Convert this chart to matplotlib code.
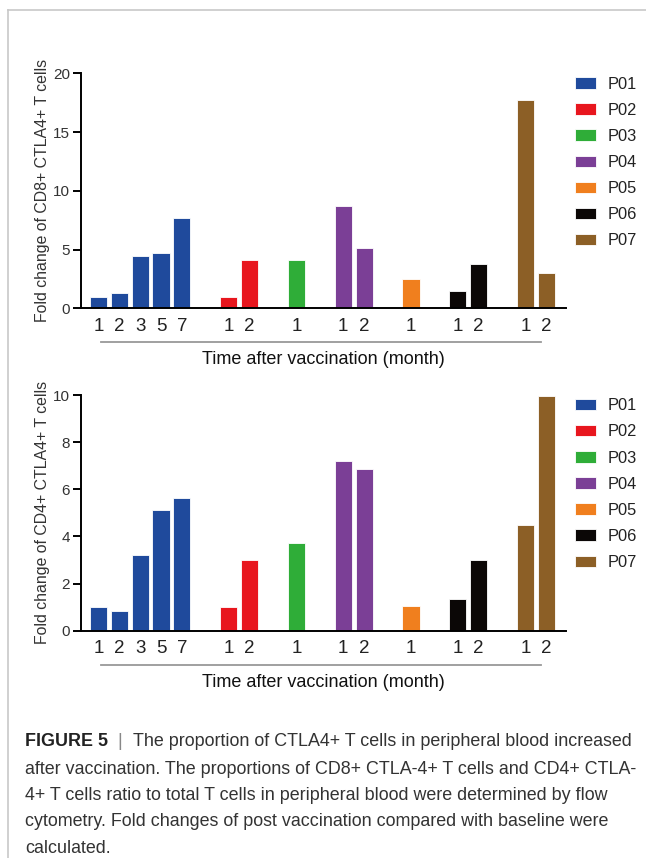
import numpy as np
import matplotlib
matplotlib.use("Agg")
import matplotlib.pyplot as plt
from matplotlib.patches import Patch

plt.rcParams['font.family'] = ['Liberation Sans', 'DejaVu Sans']

patients = ["P01", "P02", "P03", "P04", "P05", "P06", "P07"]
colors = ["#1f4a9c", "#e8161e", "#2fad38", "#7b3f96", "#f07f1e", "#0b0706", "#8c5f26"]
months = [[1, 2, 3, 5, 7], [1, 2], [1], [1, 2], [1], [1, 2], [1, 2]]

cd8_fold = [[1.0, 1.3, 4.45, 4.68, 7.65], [1.0, 4.08], [4.15], [8.73, 5.17],
            [2.48], [1.48, 3.75], [17.75, 2.98]]
cd4_fold = [[1.0, 0.85, 3.22, 5.11, 5.64], [1.0, 3.02], [3.72], [7.19, 6.87],
            [1.04], [1.34, 3.02], [4.5, 9.96]]

caption_first = "The proportion of CTLA4+ T cells in peripheral blood increased"
caption_lines = [
    "after vaccination. The proportions of CD8+ CTLA-4+ T cells and CD4+ CTLA-",
    "4+ T cells ratio to total T cells in peripheral blood were determined by flow",
    "cytometry. Fold changes of post vaccination compared with baseline were",
    "calculated.",
]

# bar positions: one slot per month, wider gap between patients
gap = 2.24
pos = []
x = 0.0
for i, m in enumerate(months):
    if i > 0:
        x += gap
    grp = []
    for j in range(len(m)):
        if j > 0:
            x += 1
        grp.append(x)
    pos.append(grp)

W, H = 646, 858
fig = plt.figure(figsize=(W / 100, H / 100), dpi=100)

# panel frame (top and left edges only)
fig.add_artist(plt.Line2D([8 / W, 1], [1 - 10 / H, 1 - 10 / H], color="#c8c8c8", lw=1.2))
fig.add_artist(plt.Line2D([8 / W, 8 / W], [0, 1 - 10 / H], color="#c8c8c8", lw=1.2))

panels = [
    (cd8_fold, "Fold change of CD8+ CTLA4+ T cells", 20, [0, 5, 10, 15, 20], 308.3, 235.0),
    (cd4_fold, "Fold change of CD4+ CTLA4+ T cells", 10, [0, 2, 4, 6, 8, 10], 630.7, 235.7),
]

for data, ylab, ymax, yt, ybot, hpx in panels:
    ax = fig.add_axes([81 / W, (H - ybot) / H, 485 / W, hpx / H])
    for g in range(len(patients)):
        ax.bar(pos[g], data[g], width=0.82, color=colors[g],
               edgecolor="white", linewidth=0.6, label=patients[g], zorder=2)
    allpos = [p for grp in pos for p in grp]
    alllab = [str(m) for grp in months for m in grp]
    ax.set_xticks(allpos, alllab)
    ax.set_xlim(-0.83, 22.38)
    ax.set_ylim(0, ymax)
    ax.set_yticks(yt)
    for s in ["top", "right"]:
        ax.spines[s].set_visible(False)
    ax.spines["left"].set_linewidth(1.4)
    ax.spines["bottom"].set_linewidth(1.4)
    ax.tick_params(axis="x", direction="in", length=3, width=1.4, pad=7,
                   labelsize=13.5, labelcolor="#222222")
    ax.tick_params(axis="y", direction="out", length=6, width=1.4, pad=2,
                   labelsize=11, labelcolor="#333333")
    for t in ax.get_xticklines():
        t.set_zorder(3)
    ax.set_ylabel(ylab, fontsize=11.4, color="#333333", labelpad=2)
    # bracket under the month labels
    ax.plot([allpos[0] + 0.15, allpos[-1] - 0.25], [-0.144, -0.144], color="#999999",
            lw=1.3, transform=ax.get_xaxis_transform(), clip_on=False)
    ax.text(0.5, -0.218, "Time after vaccination (month)", transform=ax.transAxes,
            ha="center", va="center", fontsize=13, color="#111111")
    handles = [Patch(facecolor=c, edgecolor="white", linewidth=0.6) for c in colors]
    ax.legend(handles, patients, loc="upper left", bbox_to_anchor=(0.995, 1.035),
              frameon=False, fontsize=11.8, handlelength=1.3, handleheight=0.7,
              handletextpad=0.7, labelspacing=0.68, borderaxespad=0.3,
              labelcolor="#222222")

cap_fs = 12.9
fig.canvas.draw()
r = fig.canvas.get_renderer()
t0 = fig.text(25 / W, 1 - 742 / H, "FIGURE 5", fontsize=cap_fs, fontweight="bold",
              color="#222222", va="center")
bb = t0.get_window_extent(r)
t1 = fig.text(bb.x1 / W, 1 - 742 / H, "  |  ", fontsize=cap_fs,
              color="#888888", va="center")
bb = t1.get_window_extent(r)
fig.text(bb.x1 / W, 1 - 742 / H, caption_first, fontsize=cap_fs, color="#333333", va="center")
for k, ln in enumerate(caption_lines):
    fig.text(25 / W, 1 - (769 + 26.5 * k) / H, ln, fontsize=cap_fs,
             color="#333333", va="center")

fig.savefig("out.png", dpi=100)
